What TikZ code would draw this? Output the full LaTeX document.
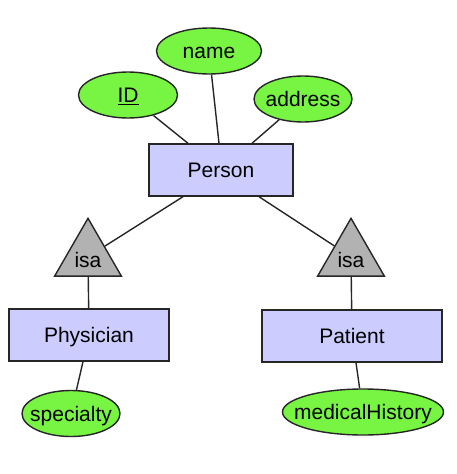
\documentclass[tikz,border=0pt]{standalone}
\usepackage{fontspec}
\setmainfont{Liberation Sans}
\usetikzlibrary{shapes,positioning}

\definecolor{attrgreen}{RGB}{119,245,66}
\definecolor{entityblue}{RGB}{204,204,255}
\definecolor{isagray}{RGB}{178,178,178}

\begin{document}
\begin{tikzpicture}[
    x=1pt, y=-1pt,
    every node/.style={font=\fontsize{21}{25}\selectfont, text=black},
    entity/.style={rectangle, draw=black!85, line width=1.4pt, fill=entityblue, inner sep=0pt, minimum height=52pt, minimum width=#1, text height=15pt, text depth=0pt},
    attr/.style={ellipse, draw=black!85, line width=1.4pt, fill=attrgreen, inner sep=0pt, minimum height=46pt, minimum width=#1, text height=15pt, text depth=0pt},
    isa/.style={regular polygon, regular polygon sides=3, draw=black!85, line width=1.4pt, fill=isagray, inner sep=0pt, minimum size=77pt, text height=22pt, text depth=0pt},
    link/.style={line width=1.4pt, draw=black!85}
]
\useasboundingbox (0,0) rectangle (456,474);

% Superclass and its attributes
\node[entity=144pt] (person) at (221,170) {Person};
\node[attr=99pt] (id) at (128,95) {\makebox[0pt]{\underline{ID}}};
\node[attr=105pt] (name) at (209,51) {\makebox[0pt]{name}};
\node[attr=98pt] (address) at (303,99) {\makebox[0pt]{address}};

\draw[link] ([xshift=-33pt]person.north) -- (id);
\draw[link] ([xshift=-2pt]person.north) -- (name);
\draw[link] ([xshift=31pt]person.north) -- (address);

% isa triangles
\node[isa] (isa-left) at (88,256.8) {isa};
\node[isa] (isa-right) at (351,256.8) {isa};

\draw[link] ([xshift=-38pt]person.south) -- (isa-left);
\draw[link] ([xshift=38pt]person.south) -- (isa-right);

% Subclasses
\node[entity=160pt] (physician) at (89,335) {Physician};
\node[entity=180pt] (patient) at (352,336) {Patient};

\draw[link] (isa-left) -- (physician);
\draw[link] (isa-right) -- (patient);

% Subclass attributes
\node[attr=98pt] (specialty) at (71,413.5) {\makebox[0pt]{specialty}};
\node[attr=161pt] (history) at (363,412) {\makebox[0pt]{medicalHistory}};

\draw[link] ([xshift=-6pt]physician.south) -- (specialty);
\draw[link] ([xshift=4pt]patient.south) -- (history);

\end{tikzpicture}
\end{document}
